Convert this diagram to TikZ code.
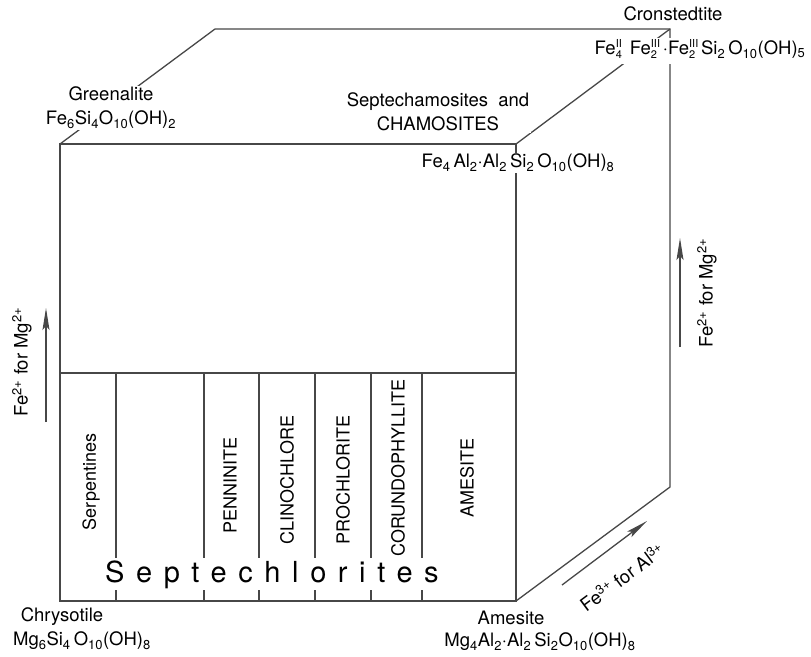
\documentclass[tikz,border=0pt]{standalone}
\usepackage{fontspec}
\setmainfont{TeX Gyre Heros}
\usetikzlibrary{arrows.meta,positioning,calc}

\newcommand{\sbs}[1]{\textsubscript{#1}}
\newcommand{\ox}[2]{\raisebox{-4pt}{\fontsize{11}{12}\selectfont\begin{tabular}[b]{@{}l@{}}#1\\[-1pt]#2\end{tabular}}\hspace{0.15em}}
\newcommand{\cdt}{\textperiodcentered}

\begin{document}
\begin{tikzpicture}[x=1pt, y=-1pt,
    edge/.style={draw=black!72, line width=1.3pt},
    divider/.style={draw=black!72, line width=1.1pt},
    lbl/.style={fill=white, inner sep=1.5pt, align=center, font=\fontsize{18.5}{24}\selectfont},
    colname/.style={rotate=90, inner sep=1pt, font=\fontsize{18}{20}\selectfont},
    subarrow/.style={-{Stealth[length=22pt,width=7pt,inset=4pt]}, line width=1.3pt, draw=black!72}
]
    \useasboundingbox (0,0) rectangle (811,656);

    % corners of the block
    \coordinate (fbl) at (60,601);
    \coordinate (fbr) at (516,601);
    \coordinate (ftr) at (516,144);
    \coordinate (ftl) at (60,144);
    \coordinate (btl) at (215,29);
    \coordinate (btr) at (670,29);
    \coordinate (bbr) at (670,487);
    \coordinate (midl) at (60,373);
    \coordinate (midr) at (516,373);

    \draw[edge] (fbl) rectangle (ftr);
    \draw[edge] (ftl) -- (btl) -- (btr) -- (bbr) -- (fbr);
    \draw[edge] (ftr) -- (btr);
    \draw[edge] (midl) -- (midr);
    \foreach \x in {116,204,259,315,371,422}
        \draw[divider] (\x,373) -- (\x,601);

    % columns
    \node[colname] (serp) at (91,482) {Serpentines};
    \node[colname] (penn) at (230,485) {PENNINITE};
    \node[colname] (clino) at (287,480) {CLINOCHLORE};
    \node[colname] (prochl) at (343,480) {PROCHLORITE};
    \node[colname] (corund) at (398,468) {CORUNDOPHYLLITE};
    \node[colname] (ames) at (467,478) {AMESITE};

    \node[fill=white, inner sep=2pt, anchor=base west,
          font=\fontsize{29}{30}\selectfont\addfontfeature{LetterSpace=40}]
        (septchl) at (103,582) {Septechlorites};

    % end members
    \node[lbl] (green) at (111,108) {Greenalite\\Fe\sbs{6}Si\sbs{4}O\sbs{10}(OH)\sbs{2}};
    \node[lbl] (cronname) at (673,14) {Cronstedtite};
    \node[lbl] (cronform) at (700,51) {Fe\ox{II}{4}\ Fe\ox{III}{2}\cdt Fe\ox{III}{2}Si\sbs{2}\,O\sbs{10}(OH)\sbs{5}};
    \node[lbl] (chamname) at (438,112) {Septechamosites\ \ and\\CHAMOSITES};
    \node[lbl] (chamform) at (518,163) {Fe\sbs{4}\,Al\sbs{2}\cdt Al\sbs{2}\,Si\sbs{2}\,O\sbs{10}(OH)\sbs{8}};
    \node[lbl] (chrysname) at (62,617) {Chrysotile};
    \node[lbl] (chrysform) at (82,641) {Mg\sbs{6}Si\sbs{4}\,O\sbs{10}(OH)\sbs{8}};
    \node[lbl] (amesname) at (511,618) {Amesite};
    \node[lbl] (amesform) at (540,642) {Mg\sbs{4}Al\sbs{2}\cdt Al\sbs{2}\,Si\sbs{2}O\sbs{10}(OH)\sbs{8}};

    % substitution arrows
    \coordinate (la0) at (46,422);
    \coordinate (la1) at (46,308);
    \draw[subarrow] (la0) -- (la1);
    \node[lbl, fill=none, rotate=90] (lefttxt) at (22,362) {Fe\textsuperscript{2+} for Mg\textsuperscript{2+}};

    \coordinate (ra0) at (680,347);
    \coordinate (ra1) at (680,238);
    \draw[subarrow] (ra0) -- (ra1);
    \node[lbl, fill=none, rotate=90] (righttxt) at (707,293) {Fe\textsuperscript{2+} for Mg\textsuperscript{2+}};

    \coordinate (ba0) at (562,585);
    \coordinate (ba1) at (647,521);
    \draw[subarrow] (ba0) -- (ba1);
    \node[lbl, fill=none, rotate=36.6] (bottomtxt) at (622,577) {Fe\textsuperscript{3+} for Al\textsuperscript{3+}};
\end{tikzpicture}
\end{document}
